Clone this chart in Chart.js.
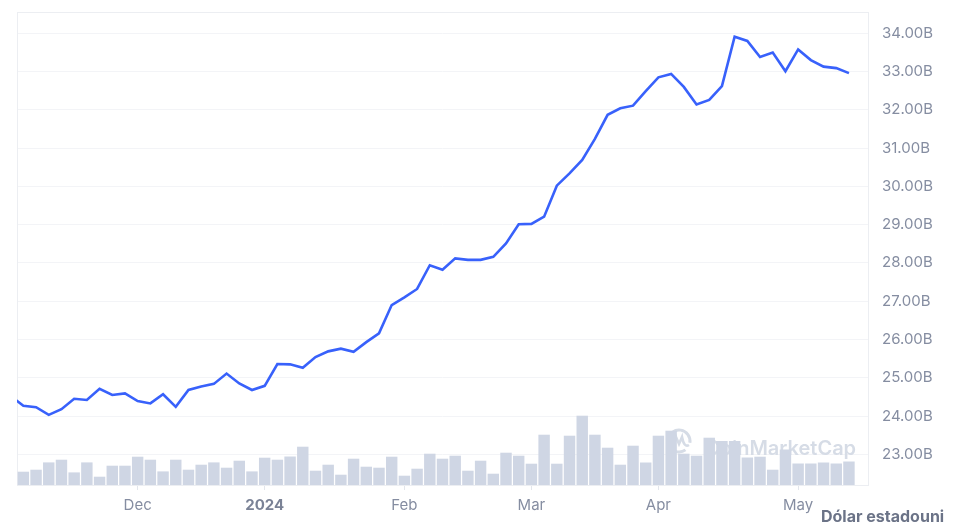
<!DOCTYPE html>
<html>
<head>
<meta charset="utf-8">
<script src="https://cdn.jsdelivr.net/npm/chart.js@4.4.1/dist/chart.umd.min.js"></script>
<style>
  html, body { margin: 0; padding: 0; background: #ffffff; }
  #wrap { width: 955px; height: 532px; position: relative; }
</style>
</head>
<body>
<div id="wrap"><canvas id="c" width="955" height="532"></canvas></div>
<script>
// ---- data ----
const priorPrice = 24.52; // value of the period before the first visible one (clipped at the left edge)
const prices = [
  24.27, 24.23, 24.03, 24.18, 24.45, 24.42, 24.71, 24.55, 24.59, 24.39,
  24.33, 24.57, 24.24, 24.68, 24.77, 24.84, 25.11, 24.85, 24.68, 24.79,
  25.36, 25.35, 25.26, 25.54, 25.69, 25.76, 25.68, 25.93, 26.16, 26.90,
  27.10, 27.32, 27.94, 27.82, 28.12, 28.08, 28.08, 28.16, 28.51, 29.01,
  29.02, 29.21, 30.02, 30.34, 30.69, 31.24, 31.87, 32.04, 32.11, 32.49,
  32.85, 32.94, 32.60, 32.14, 32.26, 32.62, 33.91, 33.80, 33.38, 33.50,
  33.01, 33.58, 33.30, 33.13, 33.09, 32.96
];
const volumes = [
  1.33, 1.53, 2.26, 2.53, 1.26, 2.26, 0.83, 1.93, 1.93, 2.83,
  2.53, 1.36, 2.53, 1.53, 2.03, 2.26, 1.73, 2.43, 1.36, 2.73,
  2.53, 2.85, 3.83, 1.43, 2.03, 1.03, 2.63, 1.83, 1.73, 2.83,
  0.93, 1.63, 3.13, 2.63, 2.93, 1.43, 2.43, 1.13, 3.23, 2.93,
  2.13, 5.03, 2.13, 4.93, 6.93, 5.03, 3.73, 2.03, 3.93, 2.25,
  4.93, 5.43, 3.13, 2.93, 4.73, 4.40, 4.40, 2.75, 2.83, 1.53,
  3.55, 2.15, 2.15, 2.25, 2.15, 2.35
];
const slotCount = 67;
const tickLabels = ['Dec', '2024', 'Feb', 'Mar', 'Apr', 'May'];
const tickIndices = [9, 19, 30, 40, 50, 61];
const boldTick = '2024';
const yTickValues = [23, 24, 25, 26, 27, 28, 29, 30, 31, 32, 33, 34];
const currencyLabel = 'Dólar estadounidense';
const watermarkText = 'CoinMarketCap';

// ---- build library structures ----
const linePoints = [{ x: -1, y: priorPrice }].concat(prices.map((v, i) => ({ x: i, y: v })));
const barPoints = volumes.map((v, i) => ({ x: i, y: v }));
const labelFor = (v) => { const k = tickIndices.indexOf(v); return k >= 0 ? tickLabels[k] : ''; };

const GRAY = '#858da1';
const FONT = 'Inter';

const framePlugin = {
  id: 'frame',
  beforeDatasetsDraw(chart) {
    const { ctx, chartArea: a } = chart;
    ctx.save();
    // watermark (under the bars)
    ctx.fillStyle = '#d6dce6';
    ctx.strokeStyle = '#d6dce6';
    const cx = a.right - 189, cy = a.bottom - 44;
    ctx.lineWidth = 3;
    ctx.beginPath();
    ctx.arc(cx, cy, 11, Math.PI * 0.3, Math.PI * 2.05);
    ctx.stroke();
    ctx.lineWidth = 2.6;
    ctx.beginPath();
    ctx.moveTo(cx - 7, cy + 5);
    ctx.lineTo(cx - 3, cy - 4);
    ctx.lineTo(cx, cy + 3);
    ctx.lineTo(cx + 3, cy - 4);
    ctx.quadraticCurveTo(cx + 5, cy + 7, cx + 10, cy + 4);
    ctx.stroke();
    ctx.font = '600 20px ' + FONT;
    ctx.textBaseline = 'alphabetic';
    ctx.textAlign = 'left';
    ctx.fillText(watermarkText, a.right - 163, a.bottom - 30);
    // frame
    ctx.strokeStyle = '#eceef2';
    ctx.lineWidth = 1;
    ctx.strokeRect(a.left + 0.5, a.top + 0.5, a.right - a.left, a.bottom - a.top);
    ctx.restore();
  },
  afterDraw(chart) {
    const { ctx, width, height } = chart;
    ctx.save();
    ctx.beginPath();
    ctx.rect(0, 0, width - 11, height);
    ctx.clip();
    ctx.fillStyle = '#6b7387';
    ctx.font = '700 16px ' + FONT;
    ctx.textBaseline = 'alphabetic';
    ctx.textAlign = 'left';
    ctx.fillText(currencyLabel, chart.chartArea.right - 47, height - 10);
    ctx.restore();
  }
};

new Chart(document.getElementById('c'), {
  type: 'bar',
  data: {
    datasets: [
      {
        type: 'line',
        data: linePoints,
        yAxisID: 'y',
        borderColor: '#3861fb',
        borderWidth: 2.6,
        pointRadius: 0,
        tension: 0,
        clip: 0,
        order: 1
      },
      {
        type: 'bar',
        data: barPoints,
        yAxisID: 'y2',
        backgroundColor: '#cfd6e4',
        barPercentage: 0.9,
        categoryPercentage: 1,
        order: 2
      }
    ]
  },
  options: {
    responsive: false,
    animation: false,
    devicePixelRatio: 1,
    layout: { padding: { left: 17, top: 12, right: 0, bottom: 0 } },
    plugins: { legend: { display: false }, tooltip: { enabled: false } },
    scales: {
      x: {
        type: 'linear',
        offset: false,
        min: -0.5,
        max: slotCount - 0.5,
        afterBuildTicks: (s) => { s.ticks = tickIndices.map((v) => ({ value: v })); },
        border: { display: false },
        grid: {
          offset: false,
          drawOnChartArea: false,
          drawTicks: true,
          tickLength: 5,
          color: '#e3e6ec'
        },
        ticks: {
          autoSkip: false,
          maxRotation: 0,
          padding: 6,
          callback: (v) => labelFor(v),
          color: (c) => (c.tick && c.tick.label === boldTick ? '#7a8296' : GRAY),
          font: (c) => (c.tick && c.tick.label === boldTick
            ? { family: FONT, size: 15, weight: '700' }
            : { family: FONT, size: 15, weight: '400' })
        },
        afterFit: (s) => { s.height = 47; }
      },
      y: {
        position: 'right',
        min: 22.198,
        max: 34.557,
        afterBuildTicks: (s) => { s.ticks = yTickValues.map((v) => ({ value: v })); },
        border: { display: false },
        grid: { color: '#f3f4f7', drawTicks: true, tickLength: 14, tickColor: 'rgba(0,0,0,0)' },
        ticks: {
          padding: 0,
          color: GRAY,
          font: { family: FONT, size: 15 },
          callback: (v) => Number(v).toFixed(2) + 'B'
        },
        afterFit: (s) => { s.width = 87; }
      },
      y2: { display: false, min: 0, max: 47.3 }
    }
  },
  plugins: [framePlugin]
});
</script>
</body>
</html>
